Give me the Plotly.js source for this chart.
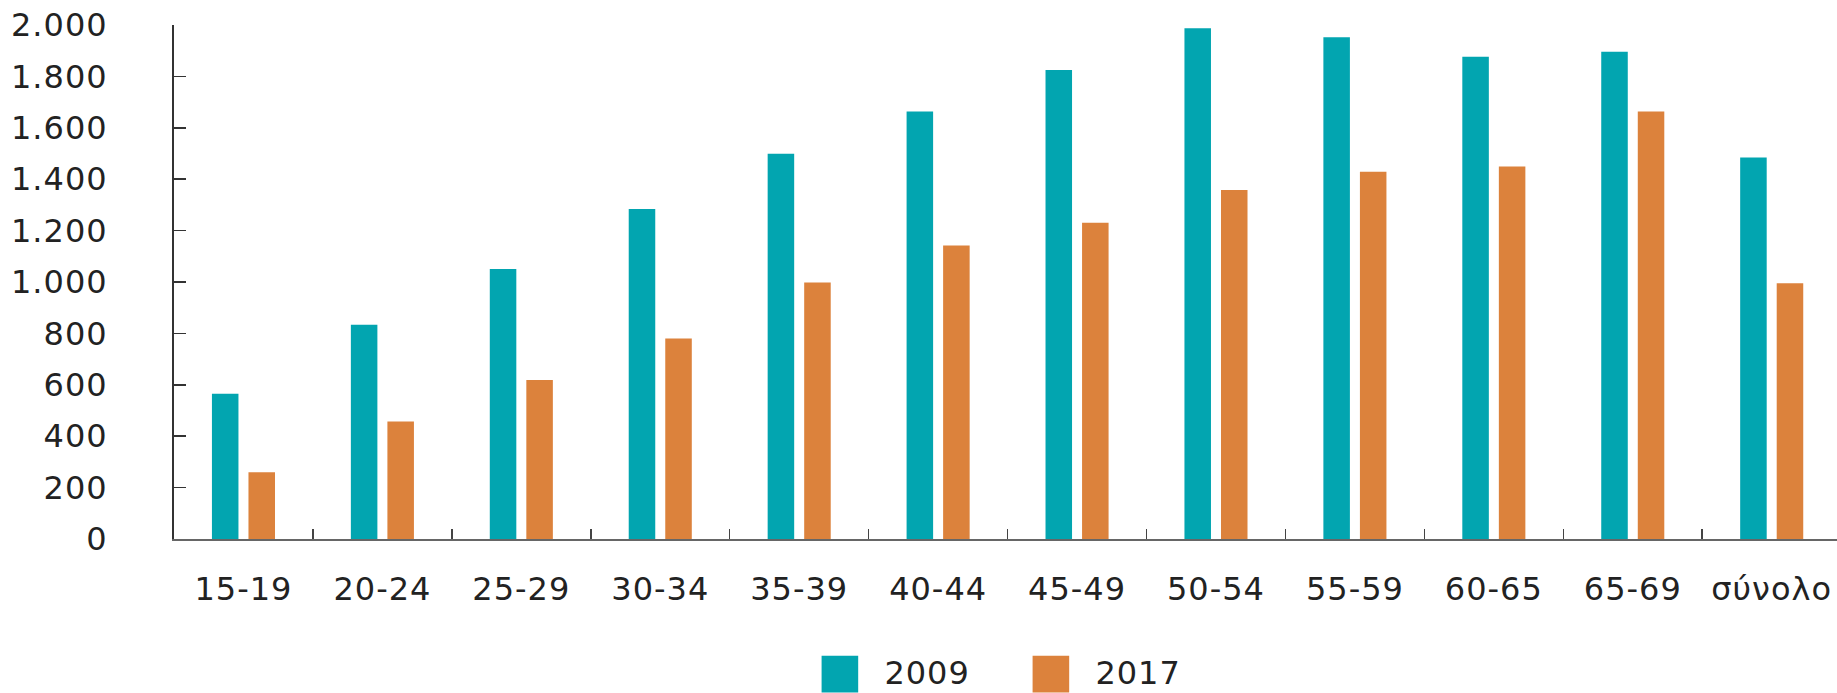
<!DOCTYPE html>
<html>
<head>
<meta charset="utf-8">
<script src="https://cdn.plot.ly/plotly-3.0.1.min.js"></script>
<style>
  html, body { margin: 0; padding: 0; background: #fff; }
  #chart { width: 1837px; height: 693px; }
  #chart text { letter-spacing: 1px; }
</style>
</head>
<body>
<div id="chart"></div>
<script>
const categories = ["15-19", "20-24", "25-29", "30-34", "35-39", "40-44", "45-49", "50-54", "55-59", "60-65", "65-69", "σύνολο"];
const values2009 = [565, 834, 1051, 1284, 1499, 1663, 1825, 1987, 1952, 1876, 1896, 1484];
const values2017 = [260, 457, 619, 780, 998, 1142, 1231, 1358, 1429, 1449, 1663, 995];
const seriesNames = ["2009", "2017"];
const yTicks = [0, 200, 400, 600, 800, 1000, 1200, 1400, 1600, 1800, 2000];

const FONT = "DejaVu Sans, sans-serif";
const TEXT = "#222222";
const FS = 32;

const traces = [
  { type: "bar", name: seriesNames[0], x: categories, y: values2009,
    marker: { color: "#02A5B0" } },
  { type: "bar", name: seriesNames[1], x: categories, y: values2017,
    marker: { color: "#DC823C" } }
];

const layout = {
  width: 1837, height: 693,
  margin: { l: 174, r: 0, t: 25, b: 154, autoexpand: false },
  paper_bgcolor: "#fff", plot_bgcolor: "#fff",
  separators: ",.",
  font: { family: FONT, size: FS, color: TEXT },
  barmode: "group",
  bargap: 0.474,
  bargroupgap: 0.274,
  showlegend: true,
  legend: {
    orientation: "h", x: 0.53, xanchor: "center", y: -0.204, yanchor: "top",
    font: { family: FONT, size: FS, color: TEXT },
    entrywidth: 166, entrywidthmode: "pixels",
    bgcolor: "rgba(0,0,0,0)"
  },
  xaxis: {
    type: "category",
    automargin: false,
    range: [-0.5, 11.47],
    showline: true, linecolor: "#666", linewidth: 2,
    ticks: "inside", tickson: "boundaries", ticklen: 10, tickcolor: "#444", tickwidth: 1.5,
    showgrid: false, zeroline: false,
    ticklabelstandoff: 21,
    tickfont: { family: FONT, size: FS, color: TEXT }
  },
  yaxis: {
    automargin: false,
    range: [0, 2000],
    tickmode: "array", tickvals: yTicks,
    tickformat: ",d",
    showline: true, linecolor: "#333", linewidth: 2,
    ticks: "inside", ticklen: 12, tickcolor: "#333", tickwidth: 1.5,
    showgrid: false, zeroline: false,
    ticklabelstandoff: 58,
    tickfont: { family: FONT, size: FS, color: TEXT }
  }
};

Plotly.newPlot("chart", traces, layout, { displayModeBar: false, staticPlot: true }).then(function () {
  document.querySelectorAll("#chart .legend [clip-path]").forEach(function (e) {
    e.removeAttribute("clip-path");
  });
  document.querySelectorAll("#chart .legend .legendpoints path").forEach(function (p) {
    p.setAttribute("transform", "translate(-4.5,3) scale(3.05)");
  });
});
</script>
</body>
</html>
